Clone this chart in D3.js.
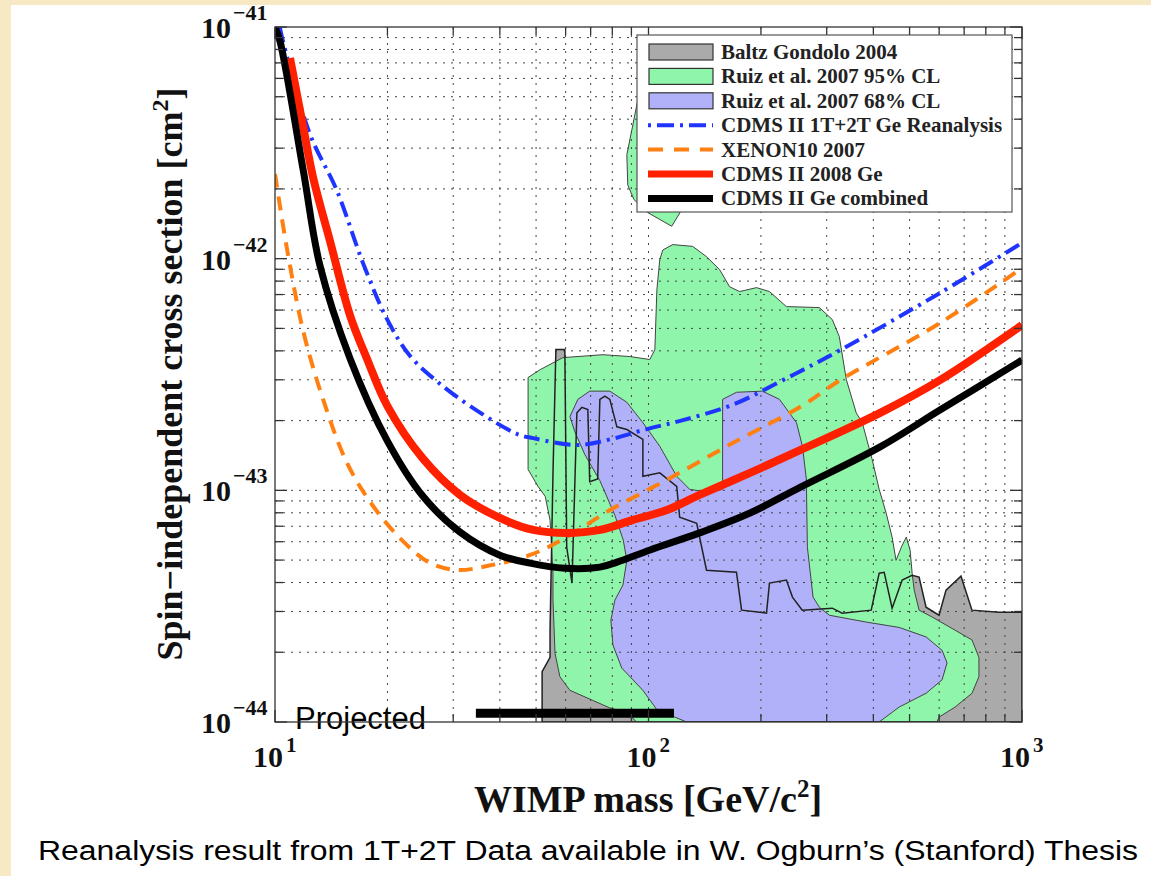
<!DOCTYPE html>
<html>
<head>
<meta charset="utf-8">
<script src="https://cdn.jsdelivr.net/npm/d3@7"></script>
<style>
body { margin: 0; background: #fff; }
</style>
</head>
<body>
<div id="chart"></div>
<script>

// ---- data (mass in GeV/c^2, cross section in cm^2) ----
var combinedMass  = [10, 10.31, 11.9, 13.2, 15.9, 20, 24.9, 31.3, 40, 48.2, 59.7, 74.1, 82.4, 101, 137, 187, 254.5, 417, 603, 1000];
var combinedSigma = [1e-41, 8.7e-42, 2.41e-42, 9.3e-43, 3.69e-43, 1.63e-43, 9.42e-44, 6.6e-44, 5.25e-44, 4.85e-44, 4.61e-44, 4.66e-44, 4.9e-44, 5.53e-44, 6.55e-44, 7.98e-44, 1.03e-43, 1.54e-43, 2.22e-43, 3.65e-43];

var cdms2008Mass  = [10.97, 11.9, 12.64, 14.04, 15.9, 17.64, 20, 24.9, 31.3, 40, 49.1, 60.5, 74.2, 90.9, 112, 137, 187, 254.5, 417, 603, 1000];
var cdms2008Sigma = [7.35e-42, 3.7e-42, 2.25e-42, 1.19e-42, 5.66e-43, 3.69e-43, 2.31e-43, 1.37e-43, 9.55e-44, 7.6e-44, 6.75e-44, 6.55e-44, 6.75e-44, 7.45e-44, 8.22e-44, 9.55e-44, 1.19e-43, 1.49e-43, 2.16e-43, 2.99e-43, 5.17e-43];

var reanalysisMass  = [10.3, 10.5, 12.4, 14.66, 17.2, 20, 23.0, 27.1, 33.3, 44.5, 49.1, 64.4, 78.9, 96.7, 123.7, 168, 229, 326, 603, 1000];
var reanalysisSigma = [1e-41, 8.7e-42, 3.45e-42, 1.96e-42, 9.58e-43, 5.44e-43, 3.8e-43, 2.96e-43, 2.31e-43, 1.75e-43, 1.68e-43, 1.57e-43, 1.66e-43, 1.82e-43, 2.01e-43, 2.34e-43, 2.99e-43, 4.03e-43, 7.11e-43, 1.17e-42];

var xenonMass  = [10, 10.77, 11.9, 13.44, 15.6, 18.3, 22.0, 26.0, 30.7, 36.9, 48.2, 60.5, 78.9, 112, 168, 254.5, 326, 603, 1000];
var xenonSigma = [2.32e-42, 1.1e-42, 4.87e-43, 2.48e-43, 1.31e-43, 8.56e-44, 6.04e-44, 4.86e-44, 4.53e-44, 4.71e-44, 5.26e-44, 6.29e-44, 8.22e-44, 1.11e-43, 1.6e-43, 2.29e-43, 2.99e-43, 5.27e-43, 9.12e-43];

var projectedMass  = [34.5, 117];
var projectedSigma = [1.09e-44, 1.09e-44];

// closed regions, [mass, sigma]
var baltzRegion = [[51.9,1e-44],[51.9,1.65e-44],[54.5,1.9e-44],[54.5,2.49e-44],[55.5,1.19e-43],[56.5,4.05e-43],
  [59.7,4.05e-43],[60.4,5.68e-44],[62.4,3.98e-44],[64.3,2.16e-43],[66.3,2.28e-43],[68.8,2.23e-43],[69.6,1.09e-43],
  [73.1,1.12e-43],[74.1,2.47e-43],[76.4,2.55e-43],[78.8,2.47e-43],[82.3,1.88e-43],[87.5,1.83e-43],[96.6,1.66e-43],
  [96.6,1.15e-43],[107.2,1.19e-43],[119,1.04e-43],[121.2,7.65e-44],[134.6,7.21e-44],[143,4.52e-44],[172,4.43e-44],
  [177.5,3.04e-44],[207,2.95e-44],[210.8,3.98e-44],[234,4.1e-44],[242.9,3.46e-44],[258,3.04e-44],[310.5,3.1e-44],
  [330,2.95e-44],[394.7,3.04e-44],[414.6,4.39e-44],[427.6,4.43e-44],[449,3.1e-44],[477.7,4.1e-44],[508,4.3e-44],
  [530.2,4.22e-44],[553.5,3.13e-44],[599.6,2.89e-44],[626,3.71e-44],[686.5,4.26e-44],[734.6,3.04e-44],
  [867.2,2.98e-44],[1000,2.98e-44],[1000,1e-44]];

var ruiz95Upper = [[93.6,4.85e-42],[90.8,3.78e-42],[87.5,2.81e-42],[88.0,2.08e-42],[91.4,1.8e-42],[99.6,1.58e-42],
  [115.4,1.38e-42],[122,1.6e-42],[137,2.95e-42],[107.2,4.85e-42]];

var ruiz95Main = [[93.0,1e-44],[87.5,1.1e-44],[78.8,1.15e-44],[70.9,1.24e-44],[61.6,1.37e-44],[57.9,1.57e-44],
  [56.2,1.98e-44],[55.5,3.36e-44],[55.5,4.39e-44],[54.5,7.43e-44],[52.9,9.41e-44],[50.6,1.04e-43],[47.6,1.23e-43],
  [47.6,3.07e-43],[51.3,3.32e-43],[59.0,3.74e-43],[75.5,3.85e-43],[89.1,3.78e-43],[100.8,3.67e-43],[104,4.05e-43],
  [105.3,7.35e-43],[107.2,9.9e-43],[109.2,1.09e-42],[116.1,1.15e-42],[131.3,1.13e-42],[143,1.02e-42],[155,8.97e-43],
  [164.8,7.57e-43],[175.3,7.21e-43],[194.6,7.5e-43],[210.8,7.21e-43],[234,6.21e-43],[286.7,6.15e-43],[310.5,5.46e-43],
  [324.2,4.61e-43],[338.5,3.01e-43],[359.9,2.16e-43],[373.5,1.96e-43],[397,1.36e-43],[414.6,1.01e-43],[433,7.96e-44],
  [449,6.28e-44],[460,4.99e-44],[477.7,5.79e-44],[490,6.28e-44],[501.7,5.52e-44],[508,4.39e-44],[514.5,3.71e-44],
  [530.2,3.04e-44],[574.4,2.84e-44],[662,2.49e-44],[734.6,2.26e-44],[766.8,1.9e-44],[766.8,1.57e-44],[734.6,1.33e-44],
  [662,1.16e-44],[599.6,1.05e-44],[592,1e-44]];

var ruiz68Region = [[126.5,1e-44],[105.3,1.13e-44],[96.6,1.37e-44],[84.8,1.71e-44],[80.3,2.15e-44],[79.3,2.75e-44],
  [81.3,3.36e-44],[85.4,3.9e-44],[87.5,4.99e-44],[85.6,6.09e-44],[81.3,7.8e-44],[74.1,1.1e-43],[67.5,1.43e-43],
  [63.5,1.79e-43],[61.6,2.08e-43],[64.7,2.47e-43],[69.6,2.68e-43],[78.8,2.68e-43],[87.5,2.4e-43],[96.6,1.96e-43],
  [107.2,1.55e-43],[119,1.15e-43],[128.9,1.01e-43],[145.8,9.8e-44],[157.9,1.01e-43],[157.9,2.47e-43],[172,2.65e-43],
  [201.9,2.68e-43],[224.2,2.47e-43],[249,1.96e-43],[258.3,1.55e-43],[264.6,1.12e-43],[266.3,5.68e-44],[275.8,3.46e-44],
  [286.7,3.13e-44],[304.8,2.89e-44],[382.8,2.7e-44],[468.9,2.56e-44],[553.5,2.33e-44],[610.8,2.04e-44],[630,1.8e-44],
  [610.8,1.52e-44],[553.5,1.33e-44],[468.9,1.16e-44],[414.6,1e-44]];

var legendLabels = ['Baltz Gondolo 2004', 'Ruiz et al. 2007 95% CL', 'Ruiz et al. 2007 68% CL',
  'CDMS II 1T+2T Ge Reanalysis', 'XENON10 2007', 'CDMS II 2008 Ge', 'CDMS II Ge combined'];

var xTickExps = [1, 2, 3];
var yTickExps = [-41, -42, -43, -44];

// ---- layout ----
var W = 1151, H = 876;
var serif = "'Liberation Serif', 'Times New Roman', serif";
var sans = "'Liberation Sans', Arial, sans-serif";

var svg = d3.select('#chart').append('svg')
    .attr('width', W)
    .attr('height', H);

// cream slide border
svg.append('rect').attr('width', W).attr('height', H).attr('fill', '#f7e9c4');
svg.append('rect').attr('x', 11).attr('y', 5).attr('width', W - 11).attr('height', H - 5).attr('fill', '#fff');

var x = d3.scaleLog().domain([10, 1000]).range([275, 1022]);
var y = d3.scaleLog().domain([1e-44, 1e-41]).range([722, 27]);

var x0 = x.range()[0], x1 = x.range()[1], y0 = y.range()[0], y1 = y.range()[1];

svg.append('clipPath').attr('id', 'plotClip')
  .append('rect').attr('x', x0).attr('y', y1).attr('width', x1 - x0).attr('height', y0 - y1);

var plot = svg.append('g').attr('clip-path', 'url(#plotClip)');

// minor + major tick values
var massTicks = [], sigmaTicks = [];
[10, 100].forEach(function(dec) {
  for (var k = 1; k < 10; k++) massTicks.push(k * dec);
});
massTicks.push(1000);
[1e-44, 1e-43, 1e-42].forEach(function(dec) {
  for (var k = 1; k < 10; k++) sigmaTicks.push(k * dec);
});
sigmaTicks.push(1e-41);

var poly = d3.line()
    .x(function(d) { return x(d[0]); })
    .y(function(d) { return y(d[1]); })
    .curve(d3.curveLinearClosed);

// fills
plot.append('path').attr('d', poly(baltzRegion)).attr('fill', '#aaaaaa').attr('stroke', 'none');
plot.append('path').attr('d', poly(ruiz95Upper)).attr('fill', '#8ff5aa').attr('stroke', '#444').attr('stroke-width', 1);
plot.append('path').attr('d', poly(ruiz95Main)).attr('fill', '#8ff5aa').attr('stroke', '#444').attr('stroke-width', 1);
plot.append('path').attr('d', poly(ruiz68Region)).attr('fill', '#b1b1f9').attr('stroke', '#444').attr('stroke-width', 1);

// dotted grid sits over the fills
var grid = plot.append('g').attr('stroke', '#444').attr('stroke-width', 1).attr('stroke-dasharray', '2,6');
grid.selectAll('.gx').data(massTicks.filter(function(m) { return m > 10 && m < 1000; }))
  .enter().append('line')
    .attr('x1', function(d) { return x(d); }).attr('x2', function(d) { return x(d); })
    .attr('y1', y1).attr('y2', y0);
grid.selectAll('.gy').data(sigmaTicks.filter(function(s) { return s > 1.01e-44 && s < 0.99e-41; }))
  .enter().append('line')
    .attr('y1', function(d) { return y(d); }).attr('y2', function(d) { return y(d); })
    .attr('x1', x0).attr('x2', x1);

// Baltz Gondolo outline on top of everything filled
plot.append('path').attr('d', poly(baltzRegion)).attr('fill', 'none').attr('stroke', '#222').attr('stroke-width', 1.5);

// limit curves
var curve = d3.line()
    .x(function(d) { return x(d[0]); })
    .y(function(d) { return y(d[1]); })
    .curve(d3.curveCatmullRom);

function zip(a, b) { return a.map(function(v, i) { return [v, b[i]]; }); }

plot.append('path').attr('d', curve(zip(reanalysisMass, reanalysisSigma)))
    .attr('fill', 'none').attr('stroke', '#1f35ff').attr('stroke-width', 4).attr('stroke-dasharray', '16,6,3,6');
plot.append('path').attr('d', curve(zip(xenonMass, xenonSigma)))
    .attr('fill', 'none').attr('stroke', '#ff7f10').attr('stroke-width', 4).attr('stroke-dasharray', '14,9');
plot.append('path').attr('d', curve(zip(cdms2008Mass, cdms2008Sigma)))
    .attr('fill', 'none').attr('stroke', '#ff2000').attr('stroke-width', 8);
plot.append('path').attr('d', curve(zip(combinedMass, combinedSigma)))
    .attr('fill', 'none').attr('stroke', '#000').attr('stroke-width', 7);

// projected sensitivity bar
plot.append('line')
    .attr('x1', x(projectedMass[0])).attr('x2', x(projectedMass[1]))
    .attr('y1', y(projectedSigma[0])).attr('y2', y(projectedSigma[1]))
    .attr('stroke', '#000').attr('stroke-width', 9);

svg.append('text').attr('x', 295).attr('y', 729)
    .style('font-family', sans).style('font-size', '31px').text('Projected');

// frame and inward ticks on all four sides
var ax = svg.append('g').attr('stroke', '#333').attr('stroke-width', 1.3);
ax.append('rect').attr('x', x0).attr('y', y1).attr('width', x1 - x0).attr('height', y0 - y1).attr('fill', 'none');

function isMajor(v) {
  var l = Math.log10(v);
  return Math.abs(l - Math.round(l)) < 1e-6;
}
massTicks.forEach(function(m) {
  var len = isMajor(m) ? 12 : 8;
  ax.append('line').attr('x1', x(m)).attr('x2', x(m)).attr('y1', y0).attr('y2', y0 - len);
  ax.append('line').attr('x1', x(m)).attr('x2', x(m)).attr('y1', y1).attr('y2', y1 + len);
});
sigmaTicks.forEach(function(s) {
  var len = isMajor(s) ? 12 : 8;
  ax.append('line').attr('y1', y(s)).attr('y2', y(s)).attr('x1', x0).attr('x2', x0 + len);
  ax.append('line').attr('y1', y(s)).attr('y2', y(s)).attr('x1', x1).attr('x2', x1 - len);
});

// tick labels: 10 with superscript exponent
var lab = svg.append('g').style('font-family', serif).style('font-weight', 'bold').attr('fill', '#111');
xTickExps.forEach(function(e) {
  var px = x(Math.pow(10, e));
  lab.append('text').attr('x', px + 8).attr('y', 767).attr('text-anchor', 'end').style('font-size', '30px').text('10');
  lab.append('text').attr('x', px + 11).attr('y', 752).style('font-size', '21px').text(e);
});
yTickExps.forEach(function(e) {
  var py = y(Math.pow(10, e));
  lab.append('text').attr('x', 231).attr('y', py + 11).attr('text-anchor', 'end').style('font-size', '30px').text('10');
  lab.append('text').attr('x', 233).attr('y', py - 7).style('font-size', '22px').text('\u2212' + Math.abs(e));
});

// axis titles
var xt = lab.append('text').attr('x', 648).attr('y', 812).attr('text-anchor', 'middle').style('font-size', '38px');
xt.append('tspan').text('WIMP mass [GeV/c');
xt.append('tspan').attr('dy', -15).style('font-size', '25px').text('2');
xt.append('tspan').attr('dy', 15).text(']');

var yt = lab.append('text').attr('transform', 'translate(182,374) rotate(-90)').attr('text-anchor', 'middle').style('font-size', '36px');
yt.append('tspan').text('Spin\u2212independent cross section [cm');
yt.append('tspan').attr('dy', -14).style('font-size', '24px').text('2');
yt.append('tspan').attr('dy', 14).text(']');

// legend
var lg = svg.append('g');
lg.append('rect').attr('x', 637).attr('y', 35).attr('width', 375).attr('height', 177)
    .attr('fill', '#fff').attr('stroke', '#555').attr('stroke-width', 1.2);

var legendStyle = [
  {kind: 'patch', fill: '#aaaaaa'},
  {kind: 'patch', fill: '#8ff5aa'},
  {kind: 'patch', fill: '#b1b1f9'},
  {kind: 'line', stroke: '#1f35ff', width: 4, dash: '3,6,17,6'},
  {kind: 'line', stroke: '#ff7f10', width: 4, dash: '15,11'},
  {kind: 'line', stroke: '#ff2000', width: 7, dash: null},
  {kind: 'line', stroke: '#000', width: 7, dash: null}
];

legendLabels.forEach(function(name, i) {
  var cy = 52 + i * 24.4;
  var st = legendStyle[i];
  if (st.kind === 'patch') {
    lg.append('rect').attr('x', 649).attr('y', cy - 8).attr('width', 64).attr('height', 16)
      .attr('fill', st.fill).attr('stroke', '#333').attr('stroke-width', 1.2);
  } else {
    lg.append('line').attr('x1', 648).attr('x2', 713).attr('y1', cy).attr('y2', cy)
      .attr('stroke', st.stroke).attr('stroke-width', st.width).attr('stroke-dasharray', st.dash);
  }
  lg.append('text').attr('x', 721).attr('y', cy + 7)
    .style('font-family', serif).style('font-weight', 'bold').style('font-size', '21px').attr('fill', '#222')
    .text(name);
});

// caption under the figure
svg.append('text').attr('x', 38).attr('y', 860)
    .attr('textLength', 1100).attr('lengthAdjust', 'spacingAndGlyphs')
    .style('font-family', sans).style('font-size', '27px')
    .text('Reanalysis result from 1T+2T Data available in W. Ogburn\u2019s (Stanford) Thesis');

</script>
</body>
</html>
